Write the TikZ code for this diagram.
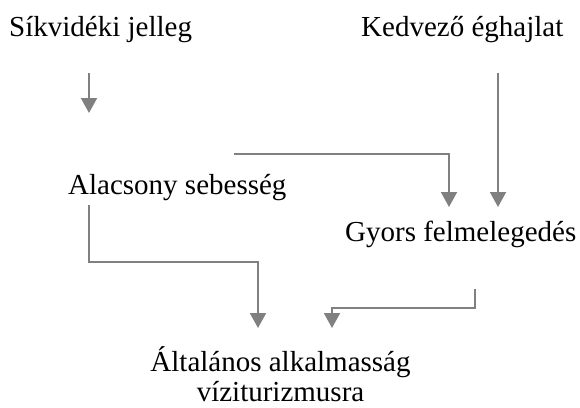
\documentclass[tikz,border=0pt]{standalone}
\usepackage{fontspec}
\setmainfont{Liberation Serif}
\usetikzlibrary{arrows.meta}
\definecolor{linegray}{HTML}{808080}
\begin{document}
\begin{tikzpicture}[x=1pt,y=-1pt,
  lbl/.style={inner sep=0pt,font=\fontsize{29}{30}\selectfont,anchor=base west},
  conn/.style={draw=linegray,line width=2pt,-{Triangle[length=15pt,width=16pt,fill=linegray]}}]
\useasboundingbox (0,0) rectangle (580,407);
\node[lbl] (sik) at (9,36) {Síkvidéki jelleg};
\node[lbl] (ked) at (361,36) {Kedvező éghajlat};
\node[lbl] (ala) at (68,194) {Alacsony sebesség};
\node[lbl] (gyo) at (345,241.5) {Gyors felmelegedés};
\node[inner sep=0pt,font=\fontsize{29}{30}\selectfont,align=center,anchor=base] (alt) at (280.5,401.5) {Általános alkalmasság\\víziturizmusra};
\coordinate (s1) at (89,73);
\coordinate (s2) at (89,113);
\coordinate (a1) at (234,154);
\coordinate (g1) at (449,207);
\coordinate (k1) at (498,73);
\coordinate (k2) at (498,207);
\coordinate (a2) at (89,205);
\coordinate (t1) at (258,328);
\coordinate (g2) at (475,289);
\coordinate (t2) at (332,328);
\draw[conn] (s1) -- (s2);
\draw[conn] (a1) -| (g1);
\draw[conn] (k1) -- (k2);
\draw[conn] (a2) |- (258,262) -- (t1);
\draw[conn] (g2) |- (332,308) -- (t2);
\end{tikzpicture}
\end{document}
